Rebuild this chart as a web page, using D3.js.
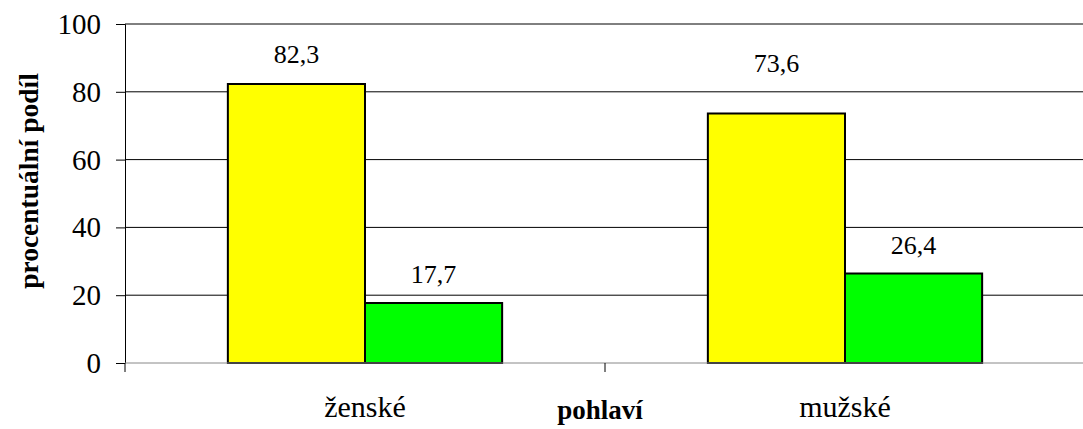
<!DOCTYPE html>
<html lang="cs">
<head>
    <meta charset="UTF-8">
    <title>pohlaví</title>
    <style>
        body { margin: 0; background: #fff; }
        svg text { font-family: "Liberation Serif", "Times New Roman", Times, serif; fill: #000; }
        .bar { stroke: #000; stroke-width: 2px; }
        .grid line { stroke: #000; stroke-width: 1px; }
    </style>
    <script src="https://d3js.org/d3.v7.min.js"></script>
</head>
<body>
    <div id="chart"></div>
    <script>
        const categories = ["ženské", "mužské"];
        const seriesA = [82.3, 73.6];
        const seriesB = [17.7, 26.4];
        const yTicks = [0, 20, 40, 60, 80, 100];
        const colors = ["#ffff00", "#00ff00"];

        const width = 1083, height = 429;
        const margin = { top: 24, right: -2, bottom: 66, left: 125 };

        const svg = d3.select("#chart").append("svg")
            .attr("width", width)
            .attr("height", height);

        const x = d3.scaleBand()
            .domain(categories)
            .range([margin.left, width - margin.right]);

        // band = 2 bars + 150% gap (Excel style)
        const barW = x.bandwidth() / 3.5;

        const y = d3.scaleLinear()
            .domain([0, 100])
            .range([height - margin.bottom, margin.top]);

        // gridlines
        svg.append("g")
            .attr("class", "grid")
            .selectAll("line")
            .data(yTicks.filter(t => t > 0))
            .enter().append("line")
            .attr("x1", margin.left)
            .attr("x2", width)
            .attr("y1", d => y(d))
            .attr("y2", d => y(d));

        // y axis
        const yAxis = svg.append("g")
            .attr("transform", `translate(${margin.left},0)`)
            .call(d3.axisLeft(y).tickValues(yTicks).tickSize(9).tickPadding(15));
        yAxis.attr("font-family", null).attr("font-size", null);
        yAxis.select(".domain").attr("stroke", "#000");
        yAxis.selectAll(".tick line").attr("stroke", "#000");
        yAxis.selectAll("text")
            .attr("dy", "0.33em")
            .style("font-size", "29px");
        // y axis runs a little below the x axis
        yAxis.append("line")
            .attr("x1", 0).attr("x2", 0)
            .attr("y1", y(0)).attr("y2", y(0) + 9)
            .attr("stroke", "#000");

        // bars
        const data = categories.map((c, i) => ({ cat: c, vals: [seriesA[i], seriesB[i]] }));
        const groups = svg.append("g").selectAll("g")
            .data(data)
            .enter().append("g");

        // label lift per point, as in the original
        const labelLift = [[21, 20], [41, 20]];

        groups.each(function (d, gi) {
            const g = d3.select(this);
            const start = x(d.cat) + (x.bandwidth() - 2 * barW) / 2;
            d.vals.forEach((v, si) => {
                g.append("rect")
                    .attr("class", "bar")
                    .attr("x", start + si * barW)
                    .attr("y", y(v))
                    .attr("width", barW)
                    .attr("height", y(0) - y(v))
                    .attr("fill", colors[si]);
                g.append("text")
                    .attr("x", start + si * barW + barW / 2)
                    .attr("y", y(v) - labelLift[gi][si])
                    .attr("text-anchor", "middle")
                    .style("font-size", "26px")
                    .text(d3.format(".1f")(v).replace(".", ","));
            });
        });

        // x axis
        const xAxis = svg.append("g")
            .attr("transform", `translate(0,${y(0)})`);
        xAxis.append("line")
            .attr("x1", margin.left).attr("x2", width)
            .attr("stroke", "#888");
        xAxis.selectAll(".sep")
            .data(categories)
            .enter().append("line")
            .attr("x1", d => x(d) + x.bandwidth())
            .attr("x2", d => x(d) + x.bandwidth())
            .attr("y1", 0).attr("y2", 9)
            .attr("stroke", "#000");
        xAxis.selectAll(".cat")
            .data(categories)
            .enter().append("text")
            .attr("x", d => x(d) + x.bandwidth() / 2)
            .attr("y", 54)
            .attr("text-anchor", "middle")
            .style("font-size", "30px")
            .text(d => d);

        // axis titles
        svg.append("text")
            .attr("x", 600)
            .attr("y", 419)
            .attr("text-anchor", "middle")
            .style("font-size", "27px")
            .style("font-weight", "bold")
            .text("pohlaví");

        svg.append("text")
            .attr("transform", `translate(38,181) rotate(-90)`)
            .attr("text-anchor", "middle")
            .style("font-size", "27.5px")
            .style("font-weight", "bold")
            .text("procentuální podíl");
    </script>
</body>
</html>
